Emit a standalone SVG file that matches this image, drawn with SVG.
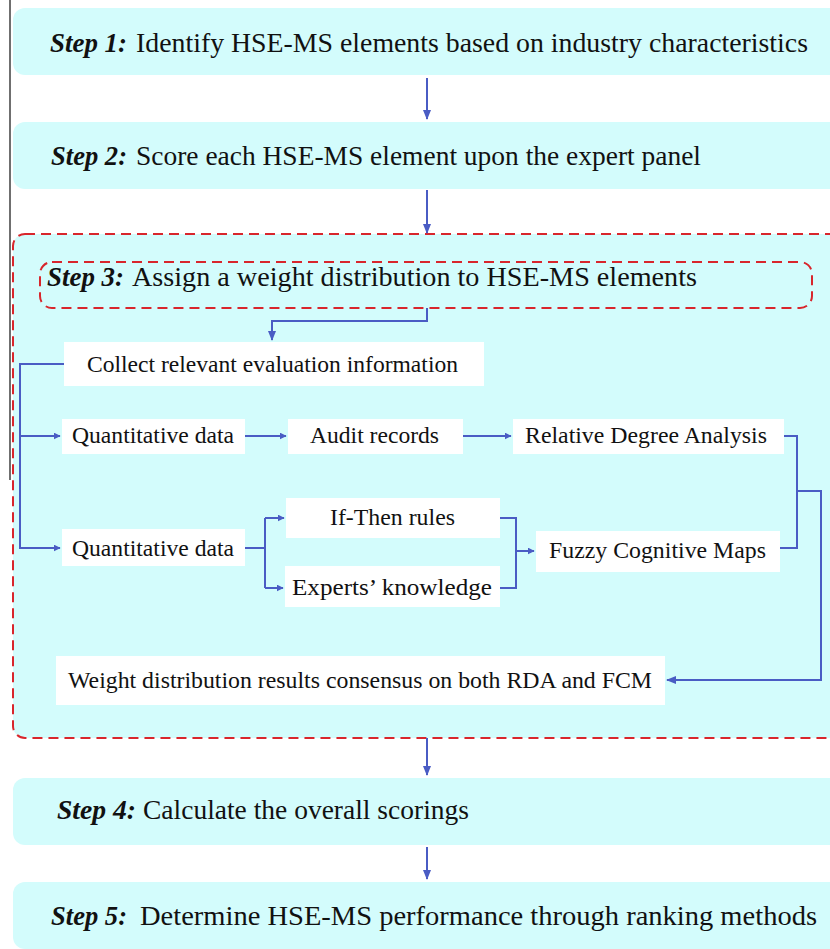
<svg xmlns="http://www.w3.org/2000/svg" width="830" height="949" viewBox="0 0 830 949">
<style>
.step{fill:#d3fcfc;}
.st{font-family:"Liberation Serif","Times New Roman",serif;font-size:28px;fill:#111;}
.it{font-style:italic;font-weight:bold;}
.wb{fill:#ffffff;}
.in{font-family:"Liberation Serif","Times New Roman",serif;font-size:23px;fill:#111;}
.dash{fill:none;stroke:#d8262c;stroke-width:2;stroke-dasharray:10,6;}
.con{fill:none;stroke:#4a5cc4;stroke-width:2;}
</style>
<defs>
<marker id="ah" viewBox="0 0 10 10" refX="9" refY="5" markerWidth="7" markerHeight="7" markerUnits="userSpaceOnUse" orient="auto">
<path d="M0,0 L10,5 L0,10 z" fill="#4a5cc4"/>
</marker>
<marker id="ah2" viewBox="0 0 10 10" refX="9" refY="5" markerWidth="10" markerHeight="10" markerUnits="userSpaceOnUse" orient="auto">
<path d="M0,1 L10,5 L0,9 z" fill="#4a5cc4"/>
</marker>
</defs>
<rect x="0" y="0" width="830" height="949" fill="#ffffff"/>
<line x1="10" y1="0" x2="10" y2="480" stroke="#6f6f6f" stroke-width="2"/>

<g id="step3-container">
<rect x="13" y="234" width="830" height="504" rx="12" fill="#d3fcfc"/>
<rect x="13" y="234" width="830" height="504" rx="12" class="dash"/>
</g>

<g id="step1">
<rect class="step" x="13" y="8" width="830" height="67" rx="12"/>
<text class="st it" x="50" y="52" textLength="77" lengthAdjust="spacingAndGlyphs">Step 1:</text>
<text class="st" x="136" y="52" textLength="672" lengthAdjust="spacingAndGlyphs">Identify  HSE-MS elements based on industry characteristics</text>
</g>
<g id="step2">
<rect class="step" x="13" y="122" width="830" height="67" rx="12"/>
<text class="st it" x="51" y="165" textLength="76" lengthAdjust="spacingAndGlyphs">Step 2:</text>
<text class="st" x="136" y="165" textLength="565" lengthAdjust="spacingAndGlyphs">Score each HSE-MS element upon the expert panel</text>
</g>
<g id="step3">
<rect x="40" y="262" width="772" height="46" rx="12" class="dash"/>
<text class="st it" x="47" y="286" textLength="77" lengthAdjust="spacingAndGlyphs">Step 3:</text>
<text class="st" x="132" y="286" textLength="565" lengthAdjust="spacingAndGlyphs">Assign  a weight distribution to  HSE-MS elements</text>
</g>
<g id="collect">
<rect class="wb" x="64" y="342" width="420" height="44"/>
<text class="in" x="87" y="372" textLength="371" lengthAdjust="spacingAndGlyphs">Collect relevant evaluation information</text>
</g>
<g id="quant1">
<rect class="wb" x="62" y="419" width="183" height="35"/>
<text class="in" x="72" y="443" textLength="162" lengthAdjust="spacingAndGlyphs">Quantitative data</text>
</g>
<g id="audit">
<rect class="wb" x="288" y="419" width="175" height="35"/>
<text class="in" x="310" y="443" textLength="129" lengthAdjust="spacingAndGlyphs">Audit records</text>
</g>
<g id="rda">
<rect class="wb" x="513" y="419" width="271" height="35"/>
<text class="in" x="525" y="443" textLength="242" lengthAdjust="spacingAndGlyphs">Relative Degree Analysis</text>
</g>
<g id="quant2">
<rect class="wb" x="62" y="529" width="183" height="37"/>
<text class="in" x="72" y="556" textLength="162" lengthAdjust="spacingAndGlyphs">Quantitative data</text>
</g>
<g id="ifthen">
<rect class="wb" x="286" y="498" width="214" height="40"/>
<text class="in" x="330" y="525" textLength="125" lengthAdjust="spacingAndGlyphs">If-Then rules</text>
</g>
<g id="experts">
<rect class="wb" x="285" y="566" width="215" height="41"/>
<text class="in" x="292" y="595" textLength="200" lengthAdjust="spacingAndGlyphs">Experts’ knowledge</text>
</g>
<g id="fcm">
<rect class="wb" x="536" y="531" width="244" height="41"/>
<text class="in" x="549" y="558" textLength="217" lengthAdjust="spacingAndGlyphs">Fuzzy Cognitive Maps</text>
</g>
<g id="weight">
<rect class="wb" x="56" y="656" width="609" height="49"/>
<text class="in" x="68" y="688" textLength="584" lengthAdjust="spacingAndGlyphs">Weight distribution results consensus on both RDA and FCM</text>
</g>
<g id="step4">
<rect class="step" x="13" y="778" width="830" height="67" rx="12"/>
<text class="st it" x="57" y="819" textLength="79" lengthAdjust="spacingAndGlyphs">Step 4:</text>
<text class="st" x="143" y="819" textLength="326" lengthAdjust="spacingAndGlyphs">Calculate the overall scorings</text>
</g>
<g id="step5">
<rect class="step" x="13" y="882" width="830" height="67" rx="12"/>
<text class="st it" x="51" y="925" textLength="76" lengthAdjust="spacingAndGlyphs">Step 5:</text>
<text class="st" x="140" y="925" textLength="677" lengthAdjust="spacingAndGlyphs">Determine HSE-MS performance through ranking methods</text>
</g>

<g id="connectors">
<path class="con" d="M427,78 V119" marker-end="url(#ah2)"/>
<path class="con" d="M427,190 V233" marker-end="url(#ah2)"/>
<path class="con" d="M427,308 V321 H272 V340" marker-end="url(#ah2)"/>
<path class="con" d="M64,364 H20 V548 H60" marker-end="url(#ah)"/>
<path class="con" d="M20,436 H60" marker-end="url(#ah)"/>
<path class="con" d="M245,436 H286" marker-end="url(#ah)"/>
<path class="con" d="M463,436 H511" marker-end="url(#ah)"/>
<path class="con" d="M784,436 H797 V548 H780"/>
<path class="con" d="M797,491 H821 V680 H667" marker-end="url(#ah2)"/>
<path class="con" d="M245,548 H265"/>
<path class="con" d="M265,518 V588"/>
<path class="con" d="M265,518 H284" marker-end="url(#ah)"/>
<path class="con" d="M265,588 H283" marker-end="url(#ah)"/>
<path class="con" d="M500,518 H516 V588 H500"/>
<path class="con" d="M516,551 H534" marker-end="url(#ah)"/>
<path class="con" d="M427,738 V775" marker-end="url(#ah2)"/>
<path class="con" d="M427,847 V879" marker-end="url(#ah2)"/>
</g>
</svg>
